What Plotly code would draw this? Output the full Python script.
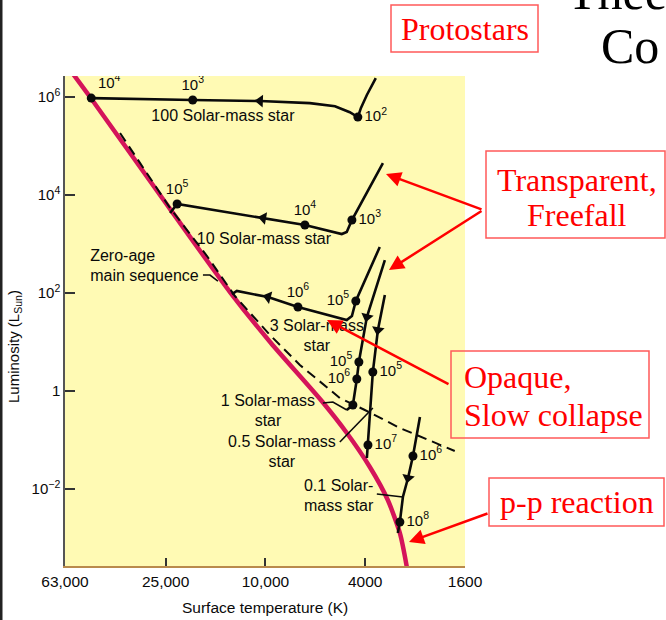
import math
import plotly.graph_objects as go

# ---------------- data (surface temperature in K, luminosity in L_sun) ----------------
zams_T = [60100, 50050, 26330, 13850, 9510, 6010, 4735, 3834, 3251, 2911, 2730, 2681]
zams_L = [3.56e6, 1.0e6, 1.0e4, 104.8, 9.55, 0.655, 0.139, 0.0281, 0.00597, 0.00127, 0.000256, 0.000139]

edge_T = [38000, 24000, 17100, 13240, 9590, 7290, 5050, 4015, 2910, 1758]
edge_L = [1.84e5, 5430, 569, 86.9, 13.9, 3.4, 0.72, 0.41, 0.176, 0.0597]

m100_T = [3630, 3940, 4160, 4280, 4610, 5280, 6650, 10500, 19500, 49500]
m100_L = [2.44e6, 1.10e6, 6.0e5, 3.9e5, 4.9e5, 6.5e5, 7.5e5, 8.3e5, 8.7e5, 9.5e5]

m10_T = [3400, 4520, 4740, 4960, 6960, 10200, 22500, 24000]
m10_L = [4.5e4, 3090, 1760, 1600, 2440, 3400, 6550, 4300]

m3_T = [3500, 4360, 4520, 4740, 7420, 9770, 13000, 13600]
m3_L = [870, 68.7, 34.0, 28.1, 51.8, 82.8, 110, 95.4]

m1_T = [3340, 3940, 4240, 4320, 4480, 4740]
m1_L = [471, 32.4, 3.91, 1.76, 0.518, 0.409]

m05_T = [3340, 3560, 3730, 3900, 3940]
m05_L = [91, 17.6, 2.44, 0.079, 0.043]

m01_T = [2420, 2580, 2700, 2830, 2910, 2965]
m01_L = [0.294, 0.0471, 0.0168, 0.00687, 0.00212, 0.00127]

# age markers (years) along the tracks
dot_T = [4280, 19500, 49500, 4520, 6960, 22500, 4360, 7420, 4240, 4320, 4480, 3730, 3900, 2580, 2910]
dot_L = [3.9e5, 8.7e5, 9.5e5, 3090, 2440, 6550, 68.7, 51.8, 3.91, 1.76, 0.518, 2.44, 0.079, 0.0471, 0.00212]
dot_age = ["10<sup>2</sup>", "10<sup>3</sup>", "10<sup>4</sup>", "10<sup>3</sup>", "10<sup>4</sup>",
           "10<sup>5</sup>", "10<sup>5</sup>", "10<sup>6</sup>", "10<sup>5</sup>", "10<sup>6</sup>",
           "", "10<sup>5</sup>", "10<sup>7</sup>", "10<sup>6</sup>", "10<sup>8</sup>"]
dot_pos = ["middle right", "top center", "top right", "middle right", "top center",
           "top center", "middle left", "top center", "middle left", "middle left",
           "middle left", "middle right", "middle right", "middle right", "middle right"]

# direction arrows on the tracks
arr_T = [10500, 10200, 9770, 3940, 3560, 2700]
arr_L = [8.3e5, 3400, 82.8, 32.4, 17.6, 0.0168]
arr_sym = ["triangle-left", "triangle-left", "triangle-left", "triangle-down", "triangle-down", "triangle-down"]
arr_ang = [2, 10, 15, 14, 9, 12]

# leader lines from the labels
lead_T = [17750, 16640, 15470, None, 5900, 5383, 4735, None, 5049, 3729, None, 3595, 2832]
lead_L = [232.8, 232.8, 175.8, None, 0.569, 0.597, 0.409, None, 0.091, 0.450, None, 0.00791, 0.00687]

# track names
name_T = [14770, 10140, 6240, 9770, 8600]
name_L = [3.91e5, 1208, 12.65, 0.373, 0.0543]
name_txt = ["100 Solar-mass star", "10 Solar-mass star", "3 Solar-mass<br>star",
            "1 Solar-mass<br>star", "0.5 Solar-mass<br>star"]
left_T = [50000, 7020]
left_L = [340, 0.00687]
left_txt = ["Zero-age<br>main sequence", "0.1 Solar-<br>mass star"]

x_ticks = [63000, 25000, 10000, 4000, 1600]
x_labels = ["63,000", "25,000", "10,000", "4000", "1600"]
y_ticks = [1e6, 1e4, 1e2, 1, 1e-2]
y_labels = ["10<sup>6</sup>", "10<sup>4</sup>", "10<sup>2</sup>", "1", "10<sup>\u22122</sup>"]

SANS = "Liberation Sans, Arial, sans-serif"
SERIF = "Liberation Serif, Times New Roman, serif"
RED = "#ff0000"
INK = "#0a0a0a"

fig = go.Figure()

fig.add_trace(go.Scatter(x=zams_T, y=zams_L, mode="lines",
                         line=dict(color="#d4145a", width=4.5, shape="spline", smoothing=0.6)))
fig.add_trace(go.Scatter(x=edge_T, y=edge_L, mode="lines",
                         line=dict(color=INK, width=2, dash="10px,6px")))
for tx, ly in [(m100_T, m100_L), (m10_T, m10_L), (m3_T, m3_L),
               (m1_T, m1_L), (m05_T, m05_L), (m01_T, m01_L)]:
    fig.add_trace(go.Scatter(x=tx, y=ly, mode="lines", line=dict(color=INK, width=2.6)))
fig.add_trace(go.Scatter(x=lead_T, y=lead_L, mode="lines", line=dict(color=INK, width=1.6),
                         connectgaps=False))
fig.add_trace(go.Scatter(x=arr_T, y=arr_L, mode="markers",
                         marker=dict(symbol=arr_sym, angle=arr_ang, size=11, color=INK)))
fig.add_trace(go.Scatter(x=dot_T, y=dot_L, mode="markers+text", text=dot_age, textposition=dot_pos,
                         marker=dict(size=9, color=INK),
                         textfont=dict(family=SANS, size=15, color=INK)))
fig.add_trace(go.Scatter(x=name_T, y=name_L, mode="text", text=name_txt, textposition="middle center",
                         textfont=dict(family=SANS, size=16, color=INK)))
fig.add_trace(go.Scatter(x=left_T, y=left_L, mode="text", text=left_txt, textposition="middle right",
                         textfont=dict(family=SANS, size=16, color=INK)))

fig.update_xaxes(type="log", range=[math.log10(63000), math.log10(1600)],
                 tickvals=x_ticks, ticktext=x_labels, ticks="inside", ticklen=8, tickwidth=1.5,
                 tickcolor="#333", showgrid=False, zeroline=False, showline=True,
                 linecolor="#b98a4c", linewidth=2, tickfont=dict(family=SANS, size=15.5, color=INK))
fig.update_yaxes(type="log", range=[-3.571, 6.429],
                 tickvals=y_ticks, ticktext=y_labels, ticks="inside", ticklen=10, tickwidth=1.5,
                 tickcolor="#333", showgrid=False, zeroline=False, showline=True,
                 linecolor="#555", linewidth=1.5, tickfont=dict(family=SANS, size=15, color=INK))


def px(x, y):
    """Pixel position on the page -> paper coordinates of the plot area."""
    return (x - 65) / 400, (566 - y) / 490


shapes = []
for x0, y0, x1, y1 in [(391, 5, 538, 52), (486, 151, 665, 238), (451, 351, 649, 438), (489, 478, 664, 526)]:
    a, b = px(x0, y0)
    c, d = px(x1, y1)
    shapes.append(dict(type="rect", xref="paper", yref="paper", x0=a, y0=d, x1=c, y1=b,
                       line=dict(color="#ff5a5a", width=1.5), fillcolor="rgba(0,0,0,0)"))
a, b = px(1, -2)
c, d = px(1, 622)
shapes.append(dict(type="line", xref="paper", yref="paper", x0=a, y0=b, x1=c, y1=d,
                   line=dict(color="#222", width=3)))

ann = []


def label(text, x, y, size, color, family, xanchor="center", align="center", angle=0):
    a, b = px(x, y)
    ann.append(dict(text=text, x=a, y=b, xref="paper", yref="paper", showarrow=False,
                    xanchor=xanchor, yanchor="middle", align=align, textangle=angle,
                    font=dict(family=family, size=size, color=color)))


def arrow(tail, head):
    a, b = px(*head)
    ann.append(dict(text="", x=a, y=b, xref="paper", yref="paper", showarrow=True,
                    ax=tail[0] - head[0], ay=tail[1] - head[1], arrowhead=2, arrowsize=1.2,
                    arrowwidth=2.5, arrowcolor=RED))


label("Surface temperature (K)", 265, 607, 15.5, INK, SANS)
label("Luminosity (L<sub>Sun</sub>)", 14, 347, 15, INK, SANS, angle=-90)
label("Protostars", 465, 29, 32, RED, SERIF)
label("Transparent,", 577, 180, 32, RED, SERIF)
label("Freefall", 577, 215, 32, RED, SERIF)
label("Opaque,", 462, 377, 32, RED, SERIF, xanchor="left", align="left")
label("Slow collapse", 462, 415, 32, RED, SERIF, xanchor="left", align="left")
label("p-p reaction", 577, 502, 32, RED, SERIF)
label("Thee", 565, -8, 50, "#000", SERIF, xanchor="left", align="left")
label("Co", 599, 46, 50, "#000", SERIF, xanchor="left", align="left")
arrow((483, 210), (386, 174))
arrow((483, 210), (389, 270))
arrow((450, 385), (327, 320))
arrow((489, 513), (409, 542))

fig.update_layout(width=666, height=620, margin=dict(l=65, r=201, t=76, b=54),
                  paper_bgcolor="white", plot_bgcolor="#fffab4", showlegend=False,
                  shapes=shapes, annotations=ann)

fig.write_html("out.html")
